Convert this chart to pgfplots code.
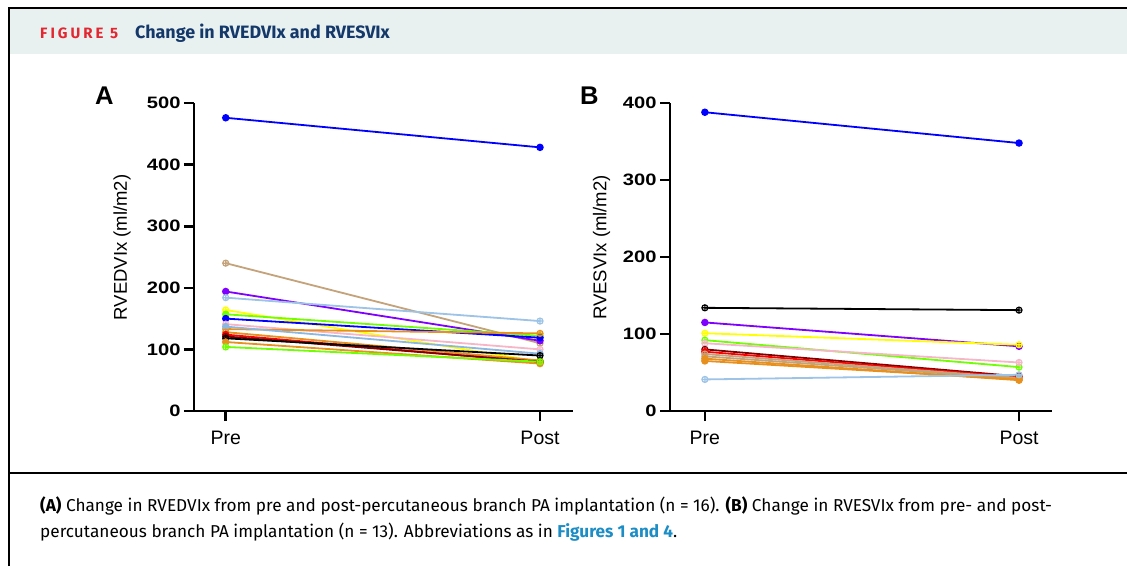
\documentclass[border=0pt]{standalone}
\usepackage{pgfplots}
\pgfplotsset{compat=1.18}
\usepackage{fontspec}
\setmainfont{Liberation Sans}
\newfontfamily\capfont{Fira Sans}
\definecolor{hdr}{HTML}{E8F1F0}
\definecolor{figred}{HTML}{E3262F}
\definecolor{navy}{HTML}{14386A}
\definecolor{linkc}{HTML}{1C8DC5}
\definecolor{cblue}{HTML}{0000FF}
\definecolor{ctan}{HTML}{C4A27A}
\definecolor{cpurple}{HTML}{7F00FF}
\definecolor{clblue}{HTML}{9DC3E6}
\definecolor{clblueb}{HTML}{8BB8E0}
\definecolor{cyellow}{HTML}{FFFF00}
\definecolor{clime}{HTML}{70FF00}
\definecolor{corange}{HTML}{E8901E}
\definecolor{cpink}{HTML}{F7B6C8}
\definecolor{cred}{HTML}{FF0000}
\definecolor{cdred}{HTML}{800000}
\pgfplotsset{
  prism/.style={
    scale only axis,
    axis x line=bottom, axis y line=left,
    axis line style={line width=2.6pt,-},
    tick style={line width=2.6pt,black},
    major tick length=10pt,
    tick align=outside,
    xtick={0,1}, xticklabels={Pre,Post},
    x tick label style={font=\fontsize{19.5}{19.5}\selectfont, yshift=-7pt},
    y tick label style={font=\fontsize{16.5}{16.5}\selectfont},
    yticklabel={\scalebox{1.22}[1]{\bfseries\pgfmathprintnumber[assume math mode=true]{\tick}}},
    label style={font=\fontsize{18.5}{18.5}\selectfont},
    ylabel style={anchor=center},
    clip=false,
  },
  fil/.style={mark=*, mark size=2.8pt, line width=1.8pt},
  opn/.style={mark=oplus, mark size=3pt, line width=1.8pt, mark options={line width=1.2pt, fill=white}},
}
\begin{document}
\begin{tikzpicture}[x=1pt,y=1pt]
\useasboundingbox (0,0) rectangle (1127,566);
\fill[white] (0,0) rectangle (1127,566);
\fill[hdr] (9,512) rectangle (1127,558);
\draw[line width=2pt] (8.5,558) -- (1127,558);
\draw[line width=2pt] (8.5,0) -- (8.5,559);
\draw[line width=2pt] (8.5,93) -- (1127,93);
\node[anchor=base west, inner sep=0] at (40,527.7) {\capfont\bfseries\color{figred}\fontsize{15}{15}\selectfont\addfontfeatures{LetterSpace=20}FIGURE 5};
\node[anchor=base west, inner sep=0] at (135,527.7) {\capfont\bfseries\color{navy}\fontsize{17.9}{17.9}\selectfont Change in RVEDVIx and RVESVIx};
\node[anchor=base west, inner sep=0] at (40,55) {\capfont\fontsize{17.2}{17.2}\selectfont\textbf{(A)} Change in RVEDVIx from pre and post-percutaneous branch PA implantation (n = 16). \textbf{(B)} Change in RVESVIx from pre- and post-};
\node[anchor=base west, inner sep=0] at (40,29) {\capfont\fontsize{17.2}{17.2}\selectfont percutaneous branch PA implantation (n = 13). Abbreviations as in \textcolor{linkc}{\textbf{Figures 1 and 4}}.};
\node[anchor=base west, inner sep=0] at (95,461) {\fontsize{25.6}{25.6}\selectfont\bfseries A};
\node[anchor=base west, inner sep=0] at (580,461) {\fontsize{25.6}{25.6}\selectfont\bfseries B};

\begin{axis}[prism, at={(194pt,155pt)}, anchor=south west, width=379pt, height=308pt,
  xmin=-0.101, xmax=1.105, ymin=0, ymax=500, ytick={0,100,...,500},
  ylabel={RVEDVIx (ml/m2)}, ylabel style={at={(axis description cs:-0.19,0.531)}}]
\addplot[fil, color=cblue] coordinates {(0,476) (1,428)};
\addplot[opn, color=ctan] coordinates {(0,240) (1,110)};
\addplot[fil, color=cpurple] coordinates {(0,194) (1,114)};
\addplot[opn, color=clblue] coordinates {(0,184) (1,146)};
\addplot[opn, color=cyellow] coordinates {(0,164) (1,80)};
\addplot[fil, color=clime] coordinates {(0,157) (1,122)};
\addplot[fil, color=cblue] coordinates {(0,150) (1,119)};
\addplot[opn, color=cpink] coordinates {(0,141) (1,100)};
\addplot[opn, color=corange] coordinates {(0,133) (1,126)};
\addplot[fil, color=clblueb] coordinates {(0,137) (1,93)};
\addplot[opn, color=corange] coordinates {(0,128) (1,82)};
\addplot[fil, color=cred] coordinates {(0,124) (1,79)};
\addplot[opn, color=cdred] coordinates {(0,121) (1,80)};
\addplot[opn, color=black] coordinates {(0,118) (1,90)};
\addplot[fil, color=corange] coordinates {(0,112) (1,77)};
\addplot[opn, color=clime] coordinates {(0,104) (1,80)};
\end{axis}

\begin{axis}[prism, at={(670pt,155pt)}, anchor=south west, width=382pt, height=308pt,
  xmin=-0.111, xmax=1.105, ymin=0, ymax=400, ytick={0,100,...,400},
  ylabel={RVESVIx (ml/m2)}, ylabel style={at={(axis description cs:-0.179,0.531)}}]
\addplot[fil, color=cblue] coordinates {(0,388) (1,348)};
\addplot[opn, color=black] coordinates {(0,134) (1,131)};
\addplot[fil, color=cpurple] coordinates {(0,115) (1,84)};
\addplot[opn, color=cyellow] coordinates {(0,101) (1,86)};
\addplot[opn, color=clime] coordinates {(0,92) (1,57)};
\addplot[opn, color=cpink] coordinates {(0,88) (1,63)};
\addplot[opn, color=cdred] coordinates {(0,80) (1,45)};
\addplot[fil, color=cred] coordinates {(0,77) (1,44)};
\addplot[opn, color=ctan] coordinates {(0,74) (1,43)};
\addplot[opn, color=ctan] coordinates {(0,71) (1,42)};
\addplot[fil, color=corange] coordinates {(0,68) (1,40)};
\addplot[fil, color=corange] coordinates {(0,65) (1,41)};
\addplot[opn, color=clblue] coordinates {(0,41) (1,47)};
\end{axis}
\end{tikzpicture}
\end{document}
